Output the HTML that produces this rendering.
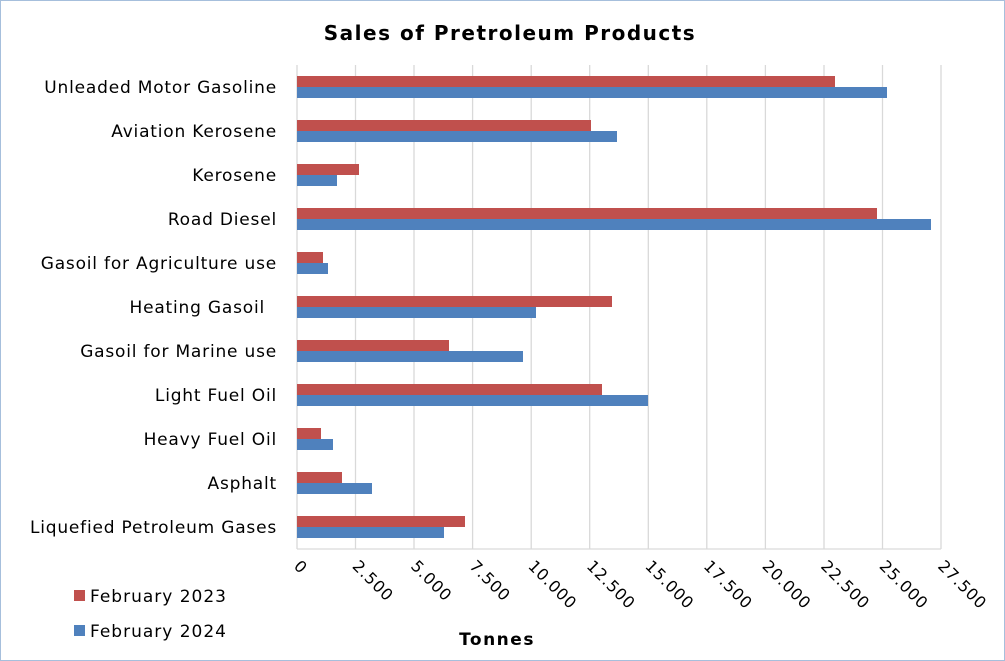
<!DOCTYPE html>
<html><head><meta charset="utf-8"><style>
body{margin:0;background:#fff}
svg{display:block}
text{font-family:"DejaVu Sans","Liberation Sans",sans-serif;fill:#000}
</style></head><body>
<svg width="1005" height="661" viewBox="0 0 1005 661" xmlns="http://www.w3.org/2000/svg">
<rect x="0.5" y="0.5" width="1004" height="660" fill="#fff" stroke="#a6bfdc"/>
<text x="510" y="40" font-size="20" font-weight="bold" text-anchor="middle" letter-spacing="1.5">Sales of Pretroleum Products</text>
<g stroke="#d9d9d9" stroke-width="1.3">
<line x1="355.5" y1="65" x2="355.5" y2="549"/><line x1="414" y1="65" x2="414" y2="549"/>
<line x1="472.6" y1="65" x2="472.6" y2="549"/><line x1="531.2" y1="65" x2="531.2" y2="549"/>
<line x1="589.7" y1="65" x2="589.7" y2="549"/><line x1="648.3" y1="65" x2="648.3" y2="549"/>
<line x1="706.8" y1="65" x2="706.8" y2="549"/><line x1="765.4" y1="65" x2="765.4" y2="549"/>
<line x1="824" y1="65" x2="824" y2="549"/><line x1="882.5" y1="65" x2="882.5" y2="549"/>
<line x1="941" y1="65" x2="941" y2="549"/>
<line x1="297" y1="65" x2="297" y2="549"/>
<line x1="297" y1="549" x2="941" y2="549"/>
</g>
<g fill="#c0504d">
<rect x="297" y="76" width="538" height="11"/>
<rect x="297" y="120" width="294" height="11"/>
<rect x="297" y="164" width="62" height="11"/>
<rect x="297" y="208" width="580" height="11"/>
<rect x="297" y="252" width="26" height="11"/>
<rect x="297" y="296" width="315" height="11"/>
<rect x="297" y="340" width="152" height="11"/>
<rect x="297" y="384" width="305" height="11"/>
<rect x="297" y="428" width="24" height="11"/>
<rect x="297" y="472" width="45" height="11"/>
<rect x="297" y="516" width="168" height="11"/>
</g>
<g fill="#4f81bd">
<rect x="297" y="87" width="590" height="11"/>
<rect x="297" y="131" width="320" height="11"/>
<rect x="297" y="175" width="40" height="11"/>
<rect x="297" y="219" width="634" height="11"/>
<rect x="297" y="263" width="31" height="11"/>
<rect x="297" y="307" width="239" height="11"/>
<rect x="297" y="351" width="226" height="11"/>
<rect x="297" y="395" width="351" height="11"/>
<rect x="297" y="439" width="36" height="11"/>
<rect x="297" y="483" width="75" height="11"/>
<rect x="297" y="527" width="147" height="11"/>
</g>
<g font-size="17" text-anchor="end" letter-spacing="0.8">
<text x="277" y="93">Unleaded Motor Gasoline</text>
<text x="277" y="137">Aviation Kerosene</text>
<text x="277" y="181">Kerosene</text>
<text x="277" y="225">Road Diesel</text>
<text x="277" y="269">Gasoil for Agriculture use</text>
<text x="265" y="313">Heating Gasoil</text>
<text x="277" y="357">Gasoil for Marine use</text>
<text x="277" y="401">Light Fuel Oil</text>
<text x="277" y="445">Heavy Fuel Oil</text>
<text x="277" y="489">Asphalt</text>
<text x="277" y="533">Liquefied Petroleum Gases</text>
</g>
<g font-size="16" letter-spacing="0.8">
<text transform="translate(293,567) rotate(45)">0</text>
<text transform="translate(351.5,567) rotate(45)">2.500</text>
<text transform="translate(410,567) rotate(45)">5.000</text>
<text transform="translate(468.6,567) rotate(45)">7.500</text>
<text transform="translate(527.2,567) rotate(45)">10.000</text>
<text transform="translate(585.7,567) rotate(45)">12.500</text>
<text transform="translate(644.3,567) rotate(45)">15.000</text>
<text transform="translate(702.8,567) rotate(45)">17.500</text>
<text transform="translate(761.4,567) rotate(45)">20.000</text>
<text transform="translate(820,567) rotate(45)">22.500</text>
<text transform="translate(878.5,567) rotate(45)">25.000</text>
<text transform="translate(937,567) rotate(45)">27.500</text>
</g>
<text x="497" y="645" font-size="17" font-weight="bold" text-anchor="middle" letter-spacing="1.5">Tonnes</text>
<rect x="74" y="590" width="11" height="11" fill="#c0504d"/>
<text x="90" y="602" font-size="17" letter-spacing="1">February 2023</text>
<rect x="74" y="625" width="11" height="11" fill="#4f81bd"/>
<text x="90" y="637" font-size="17" letter-spacing="1">February 2024</text>
</svg>
</body></html>
